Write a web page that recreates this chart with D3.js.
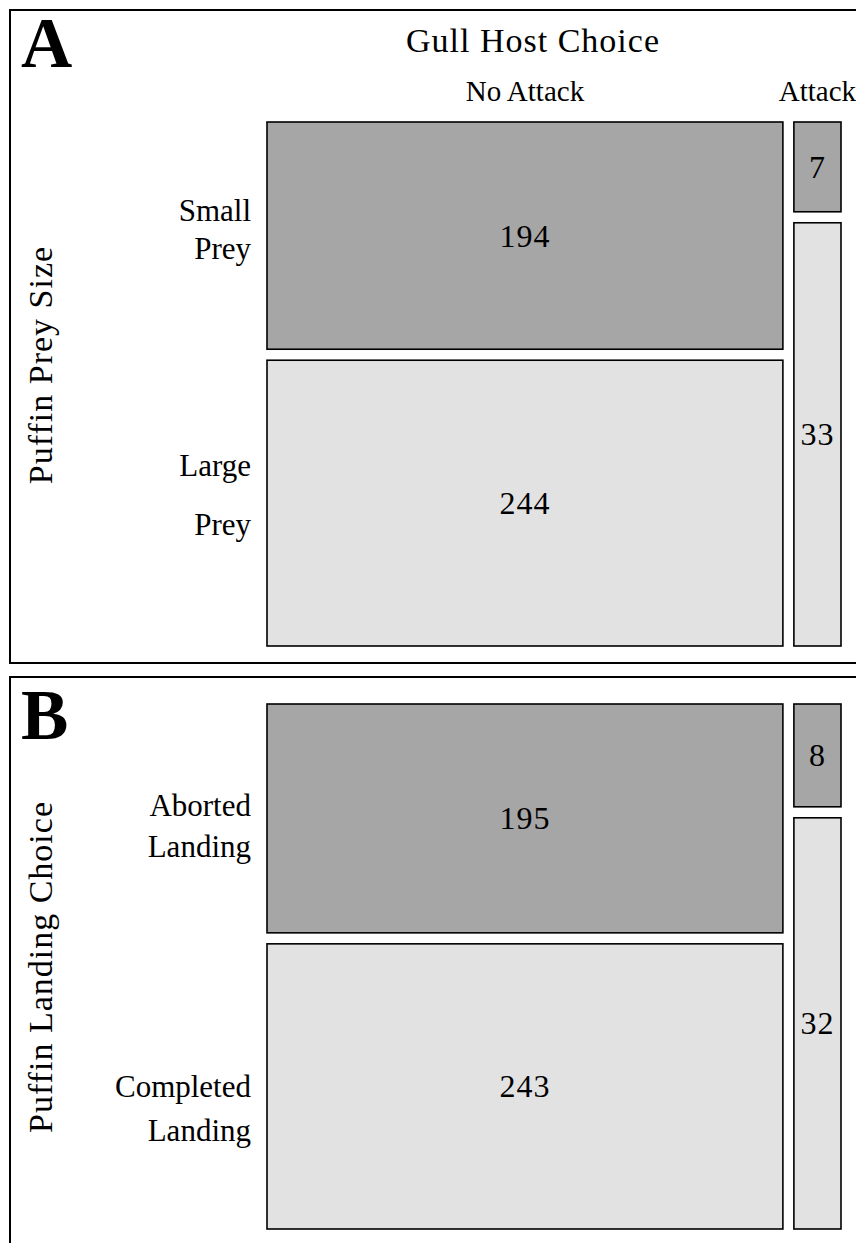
<!DOCTYPE html>
<html>
<head>
<meta charset="utf-8">
<script src="https://cdn.jsdelivr.net/npm/d3@7"></script>
<style>
  html, body { margin: 0; padding: 0; background: #fff; }
  svg { display: block; }
  text { font-family: "Liberation Serif", "Times New Roman", serif; fill: #000; }
</style>
</head>
<body>
<svg id="chart" width="856" height="1243"></svg>
<script>
// Gull host choice (columns) crossed with puffin behaviour (rows)
const hostChoices = ["No Attack", "Attack"];

const preyRows = [["Small", "Prey"], ["Large", "Prey"]];
const preyCounts = [
  [194, 244],   // No Attack: small, large
  [7, 33]       // Attack: small, large
];

const landingRows = [["Aborted", "Landing"], ["Completed", "Landing"]];
const landingCounts = [
  [195, 243],   // No Attack: aborted, completed
  [8, 32]       // Attack: aborted, completed
];

const rowFills = ["#a6a6a6", "#e2e2e2"];

const svg = d3.select("#chart");
const gap = 11;
const mosaicLeft = 267, mosaicRight = 841;

// Outer frames of the two panels (they run off the right / bottom edge)
svg.append("rect").attr("x", 10).attr("y", 10).attr("width", 870).attr("height", 653)
  .attr("fill", "none").attr("stroke", "#000").attr("stroke-width", 2);
svg.append("rect").attr("x", 10).attr("y", 677).attr("width", 870).attr("height", 600)
  .attr("fill", "none").attr("stroke", "#000").attr("stroke-width", 2);

// labelShift: [first-line offset, line spacing] per row, relative to the row centre
function drawPanel(g, counts, rowLabels, labelShift, top, bottom, letter, letterY, title) {
  const colTotals = counts.map(c => d3.sum(c));
  const grand = d3.sum(colTotals);
  const x = d3.scaleLinear().domain([0, grand])
    .range([mosaicLeft, mosaicRight - gap * (counts.length - 1)]);

  let cum = 0;
  const cols = counts.map((c, i) => {
    const x0 = x(cum) + i * gap;
    cum += colTotals[i];
    const x1 = x(cum) + i * gap;
    const y = d3.scaleLinear().domain([0, colTotals[i]])
      .range([top, bottom - gap * (c.length - 1)]);
    let rc = 0;
    const cells = c.map((v, j) => {
      const y0 = y(rc) + j * gap;
      rc += v;
      const y1 = y(rc) + j * gap;
      return { v, j, y0, y1 };
    });
    return { i, x0, x1, cells };
  });

  cols.forEach(col => {
    const cg = g.append("g");
    cg.selectAll("rect").data(col.cells).join("rect")
      .attr("x", col.x0).attr("y", d => d.y0)
      .attr("width", col.x1 - col.x0).attr("height", d => d.y1 - d.y0)
      .attr("fill", d => rowFills[d.j])
      .attr("stroke", "#000").attr("stroke-width", 1.6);
    cg.selectAll("text").data(col.cells).join("text")
      .attr("x", (col.x0 + col.x1) / 2)
      .attr("y", d => (d.y0 + d.y1) / 2 + 11)
      .attr("text-anchor", "middle")
      .attr("font-size", 32)
      .attr("letter-spacing", 1)
      .text(d => d.v);
  });

  // Row labels, placed against the first column's cells
  cols[0].cells.forEach((cell, j) => {
    const cy = (cell.y0 + cell.y1) / 2;
    const [off, lh] = labelShift[j];
    const t = g.append("text").attr("text-anchor", "end").attr("font-size", 31);
    rowLabels[j].forEach((line, k) => {
      t.append("tspan").attr("x", 251).attr("y", cy + off + k * lh).text(line);
    });
  });

  // Column headers (panel A only)
  if (title) {
    g.append("text").attr("x", 533).attr("y", 52).attr("text-anchor", "middle")
      .attr("font-size", 34).attr("letter-spacing", 1).text(title);
    cols.forEach((col, i) => {
      g.append("text").attr("x", (col.x0 + col.x1) / 2).attr("y", 101)
        .attr("text-anchor", "middle").attr("font-size", 29).text(hostChoices[i]);
    });
  }

  g.append("text").attr("x", 21).attr("y", letterY)
    .attr("font-size", 71).attr("font-weight", "bold").text(letter);
}

const gA = svg.append("g");
drawPanel(gA, preyCounts, preyRows, [[-15, 38], [-27, 59]], 122, 646, "A", 67, "Gull Host Choice");
gA.append("text").attr("transform", "translate(52,365) rotate(-90)")
  .attr("text-anchor", "middle").attr("font-size", 34).attr("letter-spacing", 1)
  .text("Puffin Prey Size");

const gB = svg.append("g");
drawPanel(gB, landingCounts, landingRows, [[-2, 41], [11, 44]], 704, 1229, "B", 739, null);
gB.append("text").attr("transform", "translate(52,967) rotate(-90)")
  .attr("text-anchor", "middle").attr("font-size", 34).attr("letter-spacing", 1)
  .text("Puffin Landing Choice");
</script>
</body>
</html>
